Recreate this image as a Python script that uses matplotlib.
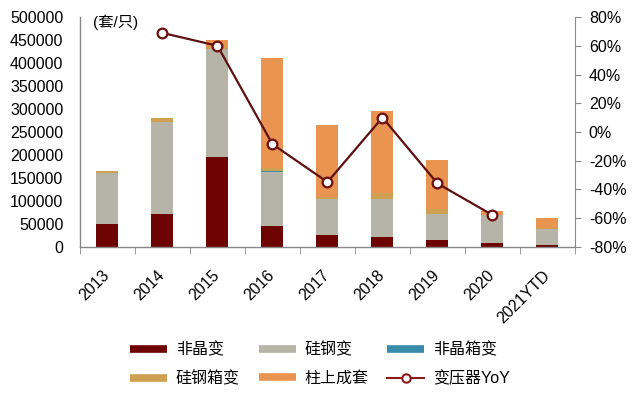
import numpy as np
import matplotlib
matplotlib.use("Agg")
import matplotlib.pyplot as plt
from matplotlib.lines import Line2D
from matplotlib.ticker import FuncFormatter, MultipleLocator

plt.rcParams['font.family'] = ['Liberation Sans', 'Noto Sans CJK SC', 'DejaVu Sans']

years = ['2013', '2014', '2015', '2016', '2017', '2018', '2019', '2020', '2021YTD']
amorphous = [50000, 70000, 195000, 45500, 26000, 21000, 13600, 7500, 2500]
silicon = [110000, 201000, 235000, 117500, 78000, 83000, 57800, 60500, 35500]
amorph_box = [1000, 0, 0, 1000, 0, 0, 0, 0, 0]
silicon_box = [3500, 10000, 5000, 7000, 5000, 12000, 10000, 1000, 1500]
pole_set = [0, 0, 15000, 240000, 156600, 179000, 106400, 9500, 22500]
yoy = [np.nan, 0.69, 0.60, -0.086, -0.35, 0.10, -0.36, -0.58, np.nan]

series = [
    ('非晶变', amorphous, '#6E0303'),
    ('硅钢变', silicon, '#B6B4A6'),
    ('非晶箱变', amorph_box, '#3A8BAA'),
    ('硅钢箱变', silicon_box, '#CF9F52'),
    ('柱上成套', pole_set, '#EA9452'),
]
line_color = '#5E1010'

fig = plt.figure(figsize=(6.4, 3.99), dpi=100)
ax = fig.add_axes([0.125, 0.382, 0.7734, 0.575])
x = np.arange(len(years))
bottom = np.zeros(len(years))
for name, vals, col in series:
    v = np.array(vals, dtype=float)
    ax.bar(x, v, width=0.4, bottom=bottom, color=col, edgecolor='none', zorder=2)
    bottom += v

ax.set_xlim(-0.5, len(years) - 0.5)
ax.set_ylim(0, 500000)
ax.yaxis.set_major_locator(MultipleLocator(50000))
ax.set_xticks(x)
ax.set_xticklabels(years, rotation=45, ha='right', va='center', rotation_mode='anchor')
ax.set_xticks(np.arange(-0.5, len(years) + 0.5, 1), minor=True)
ax.tick_params(axis='x', which='major', length=0, pad=19, labelsize=11.5)
ax.tick_params(axis='x', which='minor', length=5, color='#888888', direction='out')
ax.tick_params(axis='y', length=0, pad=12, labelsize=11.5)
for s in ['top', 'right']:
    ax.spines[s].set_visible(False)
for s in ['left', 'bottom']:
    ax.spines[s].set_color('#888888')
    ax.spines[s].set_linewidth(1.0)

ax2 = ax.twinx()
ax2.plot(x, yoy, color=line_color, lw=1.6, marker='o', markersize=7,
         markerfacecolor='white', markeredgecolor='#6E0E0E', markeredgewidth=1.6, zorder=3)
ax2.set_ylim(-0.8, 0.8)
ax2.yaxis.set_major_locator(MultipleLocator(0.2))
ax2.yaxis.set_major_formatter(FuncFormatter(lambda v, p: f"{v*100:.0f}%"))
ax2.tick_params(axis='y', length=4, color='#888888', pad=6, labelsize=11.5)
for s in ['top', 'left', 'bottom']:
    ax2.spines[s].set_visible(False)
ax2.spines['right'].set_color('#888888')

fig.text(0.145, 0.945, '(套/只)', fontsize=11, va='center', ha='left')

h = {}
for name, vals, col in series:
    h[name] = Line2D([0], [0], color=col, lw=5.5, solid_capstyle='butt')
h['变压器YoY'] = Line2D([0], [0], color='#8B1A1A', lw=1.5, marker='o', markersize=6,
                       markerfacecolor='white', markeredgecolor='#8B1A1A', markeredgewidth=1.5)
order = ['非晶变', '硅钢箱变', '硅钢变', '柱上成套', '非晶箱变', '变压器YoY']

fig.legend([h[k] for k in order], order, ncol=3, loc='center', bbox_to_anchor=(0.5, 0.088),
           frameon=False, fontsize=11.5, handlelength=2.3, handletextpad=0.55,
           columnspacing=1.2, labelspacing=0.85)

fig.savefig('out.png', dpi=100)
